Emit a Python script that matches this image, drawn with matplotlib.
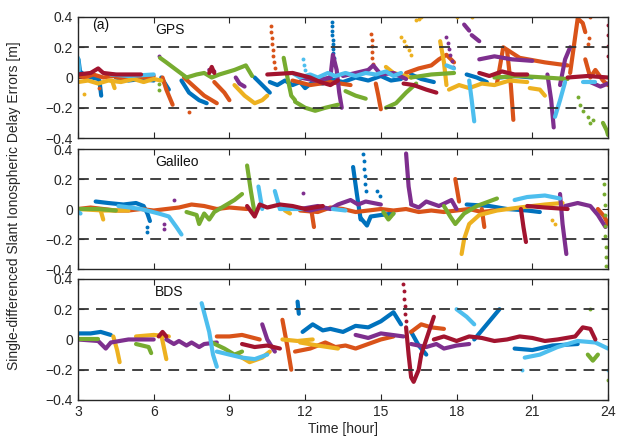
import matplotlib
matplotlib.use("Agg")
import matplotlib.pyplot as plt

# MATLAB default colour order
colors = {
    "blue": "#0072BD", "orange": "#D95319", "yellow": "#EDB120",
    "purple": "#7E2F8E", "green": "#77AC30", "lightblue": "#4DBEEE",
    "red": "#A2142F",
}

# ---------------- GPS: arcs of (time [h], error [m]) ----------------
gps_blue = [
    [(3.02, 0.12), (3.08, 0.04), (3.3, 0.01), (3.8, -0.01)],
    [(3.85, -0.02), (3.92, -0.12)],
    [(4.5, 0.0), (5.0, -0.02), (5.5, -0.01), (6.0, -0.02)],
    [(6.3, 0.0), (6.6, -0.08)],
    [(7.1, -0.02), (7.4, -0.1), (7.8, -0.15), (8.1, -0.17)],
    [(10.0, 0.0), (10.3, -0.05), (10.6, -0.1)],
    [(10.6, -0.03), (10.9, -0.05), (11.2, -0.02), (11.5, -0.05), (11.8, -0.03), (12.0, -0.07),
     (12.3, -0.03), (12.7, -0.04), (13.0, -0.01), (13.5, -0.03), (14.0, 0.0), (14.5, -0.02),
     (15.0, 0.01), (15.4, -0.02), (15.8, -0.01)],
    [(16.2, 0.02), (16.6, -0.01), (17.1, -0.03)],
    [(18.4, 0.02), (18.8, 0.0), (19.2, -0.03)],
    [(19.7, 0.0), (20.3, 0.01), (21.0, 0.0)],
]
gps_blue_dots = [(13.05, 0.37), (13.06, 0.34), (13.07, 0.31), (13.08, 0.28), (13.09, 0.25),
                 (13.1, 0.22), (13.11, 0.19), (13.12, 0.16), (13.13, 0.13), (13.15, 0.09)]

gps_orange = [
    [(3.0, 0.01), (3.3, 0.0), (3.6, 0.02), (4.0, 0.0), (4.4, 0.01), (4.8, -0.01), (5.2, 0.01),
     (5.6, 0.0), (6.0, 0.01)],
    [(6.35, 0.0), (6.5, -0.08), (6.75, -0.18)],
    [(7.2, 0.0), (7.6, -0.06), (8.0, -0.12), (8.5, -0.17)],
    [(8.4, -0.03), (8.8, -0.1), (9.0, -0.15)],
    [(11.5, -0.02), (12.2, -0.05), (13.0, -0.03), (13.8, -0.05)],
    [(14.8, -0.04), (14.9, -0.12), (15.0, -0.21)],
    [(16.0, 0.03), (16.5, 0.06), (17.0, 0.08), (17.3, 0.12), (17.6, 0.15), (17.9, 0.1)],
    [(19.6, -0.04), (19.85, 0.2), (20.5, 0.13), (21.5, 0.1), (22.4, 0.08)],
    [(20.0, 0.18), (20.15, -0.05), (20.25, -0.28)],
    [(22.5, 0.03), (22.8, 0.39), (23.0, 0.36), (23.1, 0.3)],
    [(23.1, 0.12), (23.3, 0.0), (23.5, 0.05), (23.8, -0.02), (24.0, -0.05)],
]
gps_orange_dots = [(3.85, -0.07), (7.4, -0.23), (10.63, 0.34), (10.65, 0.3), (10.67, 0.26),
                   (10.69, 0.22), (10.71, 0.18), (10.73, 0.14), (10.76, 0.1), (10.8, 0.06),
                   (14.62, 0.29), (14.63, 0.25), (14.64, 0.21), (14.65, 0.17), (14.66, 0.13),
                   (14.68, 0.09), (23.3, 0.4), (23.2, 0.22), (23.25, 0.26)]

gps_yellow = [
    [(3.0, -0.03), (3.4, -0.02), (3.8, -0.04), (4.2, -0.02), (4.7, -0.03), (5.2, -0.01),
     (5.6, -0.03), (6.0, -0.01), (6.3, -0.02)],
    [(4.35, -0.02), (4.45, -0.07)],
    [(9.2, -0.05), (9.6, -0.12), (10.0, -0.17), (10.3, -0.15), (10.5, -0.12)],
    [(15.2, 0.07), (15.5, 0.03), (16.2, 0.0)],
    [(17.35, 0.24), (17.5, 0.1), (17.6, -0.05)],
    [(17.7, -0.08), (18.1, -0.05), (18.5, -0.07), (19.0, -0.04), (19.5, -0.05), (20.1, -0.02),
     (20.8, -0.03)],
    [(20.9, -0.07), (21.3, -0.08), (21.5, -0.12)],
]
gps_yellow_dots = [(3.24, -0.11), (15.8, 0.27), (15.9, 0.24), (16.0, 0.21), (16.1, 0.18),
                   (16.2, 0.15), (16.4, 0.38), (16.5, 0.39), (16.6, 0.4), (18.0, 0.4), (18.6, 0.4)]

gps_purple = [
    [(8.2, 0.05), (8.4, 0.04)],
    [(9.25, 0.0), (9.4, -0.04), (9.6, -0.06)],
    [(11.8, 0.0), (12.4, -0.02), (13.0, 0.0)],
    [(13.0, 0.0), (13.1, 0.15), (13.25, 0.05), (13.35, -0.1), (13.45, -0.2)],
    [(13.5, 0.01), (14.0, 0.03), (14.5, 0.05), (14.7, 0.08), (15.0, 0.02), (15.5, 0.03), (16.0, -0.01)],
    [(18.3, 0.35), (18.5, 0.31)],
    [(18.6, 0.28), (18.9, 0.24)],
    [(18.9, 0.12), (19.5, 0.14), (20.2, 0.12), (21.0, 0.11)],
    [(21.6, 0.02), (21.75, -0.15), (21.85, -0.33)],
    [(22.1, -0.05), (22.3, 0.12), (22.5, 0.2)],
    [(23.3, -0.03), (23.7, -0.06), (24.0, -0.04)],
]
gps_purple_dots = [(6.2, 0.14), (17.6, 0.27), (17.65, 0.23), (17.7, 0.19), (17.75, 0.15),
                   (17.8, 0.11), (17.85, 0.07)]

gps_green = [
    [(6.25, 0.13), (6.5, 0.1), (6.9, 0.05), (7.3, 0.0)],
    [(7.3, 0.0), (7.7, 0.02), (8.0, 0.03), (8.3, 0.0), (8.6, 0.02), (9.2, 0.05), (9.65, 0.08),
     (9.9, 0.01)],
    [(11.15, 0.13), (11.3, 0.0), (11.45, -0.12), (11.6, -0.15)],
    [(11.6, -0.16), (12.0, -0.2), (12.4, -0.22), (12.8, -0.2), (13.3, -0.18)],
    [(13.6, -0.09), (14.0, -0.12), (14.4, -0.14)],
    [(15.2, -0.2), (15.6, -0.17), (16.0, -0.1), (16.4, -0.04)],
    [(16.2, 0.0), (17.0, 0.02), (17.9, 0.03)],
    [(19.5, 0.0), (20.5, 0.01), (21.5, 0.0), (22.4, -0.01)],
    [(23.8, -0.3), (23.95, -0.35), (24.0, -0.38)],
]
gps_green_dots = [(6.2, -0.04), (6.2, -0.08), (22.8, -0.13), (22.9, -0.18), (23.0, -0.22),
                  (23.2, -0.26), (23.3, -0.3), (23.4, -0.28)]

gps_lightblue = [
    [(3.0, 0.13), (3.05, 0.05)],
    [(4.3, 0.02), (5.0, 0.01), (6.0, 0.02)],
    [(11.5, 0.03), (11.8, 0.0), (12.2, 0.02), (12.5, 0.0), (12.9, 0.03), (13.2, 0.01),
     (13.6, 0.03), (14.0, 0.01), (14.4, 0.03), (14.8, 0.02), (15.2, 0.04), (15.5, 0.01), (15.8, 0.03)],
    [(17.6, 0.08), (17.9, 0.06)],
    [(18.5, -0.02), (18.6, -0.15), (18.7, -0.29)],
    [(21.9, -0.26), (22.1, -0.15), (22.3, -0.03)],
    [(23.0, -0.03), (23.5, -0.03)],
]
gps_lightblue_dots = [(11.9, 0.12), (11.95, 0.08), (12.0, 0.05)]

gps_red = [
    [(3.0, 0.02), (3.5, 0.03), (3.8, 0.06), (4.0, 0.03), (4.5, 0.02), (5.5, 0.02)],
    [(8.2, 0.03), (8.3, 0.07), (8.4, 0.03)],
    [(10.5, 0.02), (11.5, 0.03), (12.2, 0.0), (12.6, -0.03), (13.0, -0.05), (13.3, -0.02)],
    [(15.9, -0.04), (16.3, -0.05), (16.8, -0.08), (17.2, -0.1)],
    [(18.9, 0.03), (19.3, 0.01), (19.8, 0.04), (20.3, 0.02), (20.8, 0.02)],
    [(22.4, 0.0), (23.2, 0.01), (24.0, 0.0)],
]
gps_red_dots = [(24.0, 0.35), (24.0, 0.28), (24.0, 0.21), (24.0, 0.14)]

# ---------------- Galileo ----------------
gal_blue = [
    [(3.7, 0.05), (4.2, 0.04), (4.8, 0.03), (5.3, 0.04), (5.6, 0.02), (5.75, -0.03), (5.85, -0.08)],
    [(13.9, 0.28), (14.05, 0.1), (14.2, -0.07)],
    [(14.2, -0.06), (14.45, -0.11), (14.6, -0.05), (15.0, -0.04), (15.5, -0.03)],
    [(18.4, 0.03), (19.3, 0.02), (20.0, 0.0), (20.8, -0.01), (21.3, -0.02)],
]
gal_blue_dots = [(5.75, -0.12), (5.75, -0.15), (14.3, 0.37), (14.32, 0.32), (14.34, 0.27),
                 (14.36, 0.22), (14.38, 0.17), (14.4, 0.12), (14.85, 0.12), (14.95, 0.09)]

gal_orange = [
    [(3.0, 0.0), (3.5, 0.01), (4.0, 0.0), (4.5, -0.01), (5.0, -0.01), (5.5, 0.0), (6.0, -0.01),
     (6.5, 0.0), (7.0, 0.01), (7.5, 0.03), (8.0, 0.02), (8.5, 0.0), (9.0, 0.01), (9.7, 0.0)],
    [(11.8, -0.01), (12.5, -0.02), (13.0, 0.01), (13.5, 0.0), (14.0, -0.02), (14.5, -0.01),
     (15.0, 0.0), (15.5, -0.01), (16.0, 0.0), (16.5, -0.02), (17.0, -0.01), (17.5, -0.02),
     (18.0, -0.01), (18.5, 0.0), (19.0, -0.02), (19.5, -0.01)],
    [(12.25, -0.01), (12.35, -0.12)],
    [(17.95, 0.2), (18.1, 0.05)],
    [(19.0, 0.0), (19.1, -0.12)],
    [(23.6, 0.0), (23.85, -0.05), (24.0, -0.1)],
]
gal_yellow = [
    [(3.0, 0.0), (4.0, -0.01), (5.0, -0.01)],
    [(3.9, -0.01), (4.0, -0.07)],
    [(11.2, -0.01), (11.4, -0.03)],
    [(18.2, -0.3), (18.3, -0.2), (18.5, -0.1), (18.9, -0.04), (19.6, -0.01), (20.5, 0.01),
     (21.5, 0.03), (22.2, 0.04)],
]
gal_yellow_dots = [(21.8, -0.07), (21.9, -0.1)]

gal_purple = [
    [(11.6, 0.01), (12.2, -0.01), (12.7, 0.01)],
    [(11.8, 0.0), (12.5, 0.02), (13.0, 0.0), (13.3, 0.03), (13.8, 0.06), (14.1, 0.03),
     (14.4, 0.05), (15.0, 0.03)],
    [(16.0, 0.37), (16.1, 0.15), (16.2, 0.04)],
    [(16.2, 0.03), (16.5, 0.01), (16.8, 0.05), (17.3, 0.02), (17.8, 0.06), (18.0, 0.0)],
    [(22.1, 0.1), (22.2, -0.1), (22.35, -0.3)],
    [(22.3, 0.02), (22.8, 0.04), (23.3, 0.02), (23.6, -0.04), (23.9, -0.12)],
]
gal_purple_dots = [(6.4, -0.1), (6.4, -0.13), (6.8, 0.06), (11.9, 0.11)]

gal_green = [
    [(3.0, 0.0), (3.8, 0.0), (4.5, -0.01)],
    [(7.3, -0.02), (7.7, -0.04), (7.8, -0.1), (8.0, -0.03), (8.2, -0.07), (8.4, -0.02),
     (8.8, 0.02), (9.2, 0.06), (9.5, 0.1)],
    [(9.7, 0.29), (9.85, 0.12), (10.0, -0.03)],
    [(15.1, -0.02), (15.3, -0.07), (15.5, -0.03)],
    [(17.5, 0.02), (17.75, -0.05), (17.95, -0.1), (18.3, -0.03), (18.8, 0.02), (19.6, 0.07)],
]
gal_green_dots = [(23.85, 0.17), (23.86, 0.1), (23.87, 0.03), (23.88, -0.04), (23.89, -0.11),
                  (23.9, -0.18), (23.91, -0.25), (23.92, -0.32), (23.93, -0.38)]

gal_lightblue = [
    [(3.0, -0.02), (3.1, -0.03)],
    [(4.6, 0.02), (5.5, 0.0), (6.2, -0.03), (6.6, -0.05), (6.9, -0.12), (7.1, -0.17)],
    [(10.15, 0.15), (10.3, 0.0)],
    [(10.8, 0.12), (11.0, 0.0)],
    [(11.0, 0.0), (11.9, 0.0)],
    [(13.1, 0.0), (13.6, -0.01)],
    [(20.3, 0.06), (20.8, 0.08), (21.5, 0.09), (22.1, 0.07)],
]
gal_red = [
    [(9.7, 0.02), (10.0, -0.05), (10.2, 0.03), (10.5, 0.01), (11.0, 0.03), (11.5, 0.02),
     (12.0, 0.0), (12.7, 0.02)],
    [(20.55, 0.0), (20.65, -0.12), (20.75, -0.22)],
    [(20.8, 0.02), (21.5, 0.01), (22.4, 0.0)],
]

# ---------------- BDS ----------------
bds_blue = [
    [(3.0, 0.04), (3.5, 0.04), (3.9, 0.05), (4.3, 0.03)],
    [(11.7, 0.25), (11.75, 0.17)],
    [(11.9, 0.05), (12.3, 0.1), (12.7, 0.06), (13.0, 0.07), (13.5, 0.05), (14.0, 0.09),
     (14.5, 0.08), (15.0, 0.12), (15.5, 0.18), (15.8, 0.1)],
    [(16.2, 0.05), (16.5, -0.04), (16.8, -0.1)],
    [(18.7, 0.0), (19.2, 0.1), (19.7, 0.2)],
    [(20.3, -0.06), (21.0, -0.07), (21.8, -0.04), (22.8, -0.03)],
]
bds_orange = [
    [(8.5, 0.02), (9.0, 0.02), (9.5, 0.03), (10.2, 0.0)],
    [(11.1, 0.13), (11.3, -0.05), (11.45, -0.2)],
    [(11.6, -0.08), (12.2, -0.06), (12.8, -0.02), (13.2, -0.05), (13.6, -0.04), (14.0, -0.06),
     (14.5, -0.03), (15.0, 0.0), (15.5, 0.02)],
    [(16.2, 0.05), (16.6, 0.1), (17.0, 0.08), (17.5, 0.07)],
]
bds_yellow = [
    [(4.4, 0.02), (4.55, -0.07), (4.65, -0.15)],
    [(5.3, 0.02), (6.0, 0.03), (6.6, 0.02)],
    [(6.3, 0.03), (6.4, -0.05), (6.5, -0.13)],
    [(9.3, -0.1), (9.8, -0.15), (10.3, -0.12), (10.6, -0.08)],
    [(11.1, 0.0), (11.7, -0.01), (12.3, 0.0)],
    [(11.8, -0.02), (12.5, -0.04), (13.3, -0.06)],
]
bds_purple = [
    [(3.0, 0.0), (3.8, -0.01), (4.1, -0.06), (4.3, -0.02), (5.0, 0.0), (6.0, 0.0)],
    [(6.5, 0.0), (6.8, -0.03), (7.0, -0.01), (7.3, -0.04), (7.5, -0.02), (7.8, -0.05),
     (8.0, -0.03), (8.5, -0.02)],
    [(10.3, 0.1), (10.5, 0.0), (10.8, -0.08)],
    [(14.0, 0.03), (14.5, 0.01), (15.0, 0.04), (15.9, 0.02)],
    [(16.2, -0.03), (16.8, -0.05), (17.2, -0.03), (17.5, -0.06), (18.0, -0.04), (18.5, -0.03)],
]
bds_green = [
    [(3.0, 0.0), (3.8, 0.0)],
    [(5.3, -0.03), (5.8, -0.05), (5.9, -0.09)],
    [(8.3, -0.02), (8.8, -0.06), (9.2, -0.1), (9.5, -0.08)],
    [(23.2, -0.1), (23.4, -0.14), (23.6, -0.1)],
]
bds_green_dots = [(23.3, 0.2), (24.0, -0.27)]

bds_lightblue = [
    [(7.9, 0.24), (8.2, 0.05), (8.35, -0.1), (8.5, -0.18)],
    [(8.5, -0.08), (9.0, -0.1), (9.5, -0.12), (10.0, -0.13), (10.5, -0.1)],
    [(18.0, 0.2), (18.4, 0.15), (18.7, 0.1)],
    [(20.7, -0.12), (21.3, -0.1), (22.0, -0.05), (22.8, -0.01), (23.5, -0.02), (24.0, -0.06)],
]
bds_lightblue_dots = [(20.6, -0.2), (24.0, -0.2)]

bds_red = [
    [(6.2, 0.02), (6.35, 0.05), (6.5, 0.02)],
    [(9.5, -0.03), (10.0, -0.05), (10.5, -0.04), (11.0, -0.06)],
    [(16.0, 0.08), (16.1, -0.1), (16.2, -0.25), (16.3, -0.28), (16.5, -0.2), (16.6, -0.1)],
    [(16.6, -0.1), (16.9, 0.05), (17.1, 0.15)],
    [(17.1, 0.0), (17.5, 0.02), (18.0, -0.01), (18.5, 0.02), (19.0, 0.01), (19.5, -0.01),
     (20.0, 0.0), (20.5, 0.02), (21.0, 0.01), (21.5, -0.01), (22.0, 0.0), (22.7, 0.02),
     (23.0, 0.08), (23.3, 0.07), (23.5, 0.0)],
]
bds_red_dots = [(15.88, 0.37), (15.9, 0.32), (15.92, 0.27), (15.94, 0.22), (15.96, 0.17), (15.98, 0.12)]

panels = [
    ("GPS", {"blue": (gps_blue, gps_blue_dots), "orange": (gps_orange, gps_orange_dots),
             "yellow": (gps_yellow, gps_yellow_dots), "purple": (gps_purple, gps_purple_dots),
             "green": (gps_green, gps_green_dots), "lightblue": (gps_lightblue, gps_lightblue_dots),
             "red": (gps_red, gps_red_dots)}),
    ("Galileo", {"blue": (gal_blue, gal_blue_dots), "orange": (gal_orange, []),
                 "yellow": (gal_yellow, gal_yellow_dots), "purple": (gal_purple, gal_purple_dots),
                 "green": (gal_green, gal_green_dots), "lightblue": (gal_lightblue, []),
                 "red": (gal_red, [])}),
    ("BDS", {"blue": (bds_blue, []), "orange": (bds_orange, []), "yellow": (bds_yellow, []),
             "purple": (bds_purple, []), "green": (bds_green, bds_green_dots),
             "lightblue": (bds_lightblue, bds_lightblue_dots), "red": (bds_red, bds_red_dots)}),
]

plt.rcParams['font.family'] = ['Liberation Sans', 'DejaVu Sans']
fig = plt.figure(figsize=(6.17, 4.38), dpi=100)

boxes = [(0.6849, 0.2763), (0.3858, 0.2740), (0.0868, 0.2763)]
for i, (name, series) in enumerate(panels):
    ax = fig.add_axes([0.1264, boxes[i][0], 0.859, boxes[i][1]])
    for c, (arcs, dots) in series.items():
        for arc in arcs:
            t = [p[0] for p in arc]
            v = [p[1] for p in arc]
            ax.plot(t, v, '-', color=colors[c], lw=3.0, solid_capstyle='round',
                    solid_joinstyle='round', zorder=2)
        if dots:
            ax.plot([p[0] for p in dots], [p[1] for p in dots], 'o', color=colors[c],
                    ms=2.8, mew=0, zorder=2)
    ax.axhline(0.2, color='#333333', lw=1.3, ls=(0, (6, 4)), zorder=3)
    ax.axhline(-0.2, color='#333333', lw=1.3, ls=(0, (6, 4)), zorder=3)
    ax.set_xlim(3, 24)
    ax.set_ylim(-0.4, 0.4)
    ax.set_xticks(range(3, 25, 3))
    ax.set_yticks([-0.4, -0.2, 0, 0.2, 0.4])
    ax.set_yticklabels(['\u22120.4', '\u22120.2', '0', '0.2', '0.4'])
    ax.tick_params(direction='in', top=True, right=True, length=4, labelsize=10,
                   color='#262626', labelcolor='#262626')
    for s in ax.spines.values():
        s.set_color('#262626')
        s.set_linewidth(1.0)
    if i < 2:
        ax.set_xticklabels([])
    ax.text(0.145, 0.86, name, transform=ax.transAxes, fontsize=10, color='#111111')
    if i == 0:
        ax.text(0.027, 0.9, '(a)', transform=ax.transAxes, fontsize=10, color='#111111')
    if i == 2:
        ax.set_xlabel('Time [hour]', fontsize=10, color='#262626', labelpad=2)

fig.text(0.022, 0.53, 'Single-differenced Slant Ionospheric Delay Errors [m]', rotation=90,
         ha='center', va='center', fontsize=10, color='#262626')

fig.savefig('out.png', dpi=100)
